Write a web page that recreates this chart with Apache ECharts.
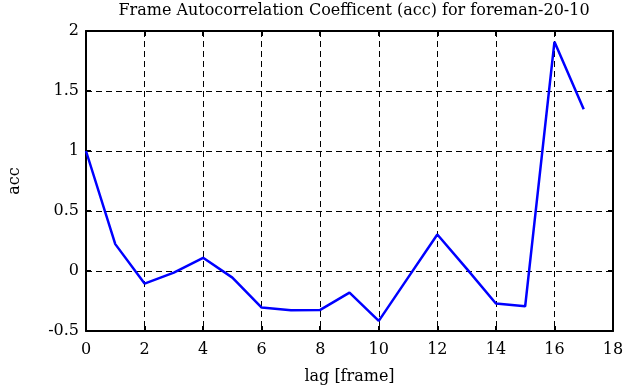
<!DOCTYPE html>
<html><head><meta charset="utf-8">
<script src="https://cdn.jsdelivr.net/npm/echarts@6/dist/echarts.min.js"></script>
<style>html,body{margin:0;padding:0;background:#fff}#c{width:641px;height:387px}</style>
</head><body><div id="c"></div>
<script>
const lags = [0,1,2,3,4,5,6,7,8,9,10,11,12,13,14,15,16,17];
const accValues = [1.0,0.224,-0.105,-0.013,0.11,-0.055,-0.305,-0.327,-0.324,-0.18,-0.416,-0.055,0.304,0.02,-0.271,-0.294,1.91,1.347];
const titleText = 'Frame Autocorrelation Coefficent (acc) for foreman-20-10';
const xName = 'lag [frame]';
const yName = 'acc';

const font = 'DejaVu Serif';
const chart = echarts.init(document.getElementById('c'), null, {renderer:'canvas'});
const gridLine = {show:true, lineStyle:{color:'#000', type:[6,4], width:1}};
const axisLine = {show:true, onZero:false, lineStyle:{color:'#000', width:2}};
const tick = {show:true, inside:true, length:5, lineStyle:{color:'#000', width:2}};
chart.setOption({
  animation:false,
  title:{text:titleText, left:349, top:-2, textAlign:'center',
    textStyle:{fontFamily:font, fontSize:16, fontWeight:'normal', color:'#000'}},
  grid:{left:86, right:28, top:31, bottom:56, containLabel:false, outerBoundsMode:'none'},
  xAxis:[
    {type:'value', min:0, max:18, interval:2, position:'bottom',
     name:xName, nameLocation:'middle', nameGap:38,
     nameTextStyle:{fontFamily:font, fontSize:16, color:'#000'},
     axisLine, axisTick:tick, splitLine:gridLine,
     axisLabel:{fontFamily:font, fontSize:16, color:'#000', margin:11}},
    {type:'value', min:0, max:18, interval:2, position:'top',
     axisLine, axisTick:tick, splitLine:{show:false}, axisLabel:{show:false}}
  ],
  yAxis:[
    {type:'value', min:-0.5, max:2, interval:0.5, position:'left',
     name:yName, nameLocation:'middle', nameGap:63, nameRotate:90,
     nameTextStyle:{fontFamily:font, fontSize:16, color:'#000'},
     axisLine, axisTick:tick, splitLine:gridLine,
     axisLabel:{fontFamily:font, fontSize:16, color:'#000', margin:7}},
    {type:'value', min:-0.5, max:2, interval:0.5, position:'right',
     axisLine, axisTick:tick, splitLine:{show:false}, axisLabel:{show:false}}
  ],
  series:[{type:'line', data:lags.map((l,i)=>[l,accValues[i]]), showSymbol:false,
    lineStyle:{color:'#0000ff', width:2.5}, itemStyle:{color:'#0000ff'}}]
});
</script></body></html>
